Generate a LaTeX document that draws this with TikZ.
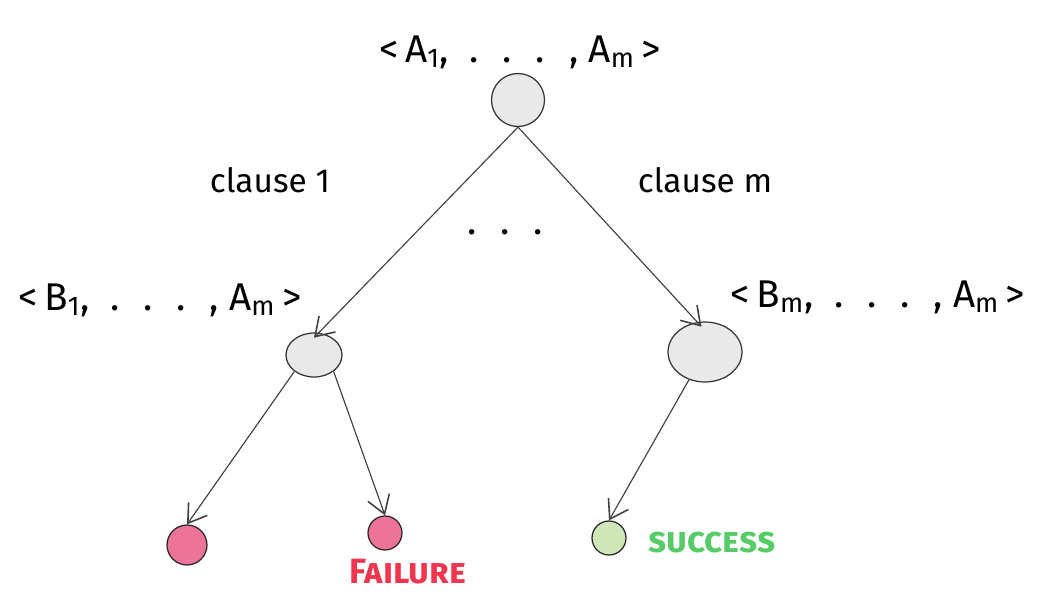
\documentclass[tikz,border=0pt]{standalone}
\usepackage{fontspec}
\setmainfont{Fira Sans}
\usetikzlibrary{arrows.meta,shapes.geometric}
\definecolor{nodegray}{HTML}{E9E9E9}
\definecolor{failred}{HTML}{EE7399}
\definecolor{succgreen}{HTML}{CFE6B8}
\definecolor{failtext}{HTML}{F0364E}
\definecolor{succtext}{HTML}{55CC66}
\tikzset{
  stnode/.style={draw=black!80, line width=0.7pt, fill=nodegray, ellipse, inner sep=0pt},
  leafred/.style={draw=black!85, line width=0.7pt, fill=failred, circle, inner sep=0pt},
  leafgreen/.style={draw=black!85, line width=0.7pt, fill=succgreen, circle, inner sep=0pt},
  edge/.style={draw=black!75, line width=0.65pt, -{Straight Barb[length=10pt,width=13pt,line width=0.9pt]}},
  lbl/.style={font=\fontsize{22}{26}\selectfont, inner sep=0pt},
  clbl/.style={font=\fontsize{19}{22}\selectfont, inner sep=0pt},
  outtxt/.style={font=\fontsize{20}{24}\selectfont\scshape, inner sep=0pt},
}
\begin{document}
\begin{tikzpicture}[x=0.02cm,y=-0.02cm]
\useasboundingbox (0,0) rectangle (1062,602);
% labels
\node[lbl] (la) at (520,52) {<\,A\textsubscript{1}, \ . \ . \ . \ , A\textsubscript{m}\,>};
\node[lbl] (lb) at (160,300) {<\,B\textsubscript{1}, \ . \ . \ . \ , A\textsubscript{m}\,>};
\node[lbl] (lc) at (878,297) {<\,B\textsubscript{m}, \ . \ . \ . \ , A\textsubscript{m}\,>};
\node[clbl] (c1) at (270,180) {clause 1};
\node[clbl] (cm) at (705,180) {clause m};
\node[lbl] (dots) at (505,232) {. \ . \ .};
% nodes
\node[stnode, minimum width=1.06cm, minimum height=1.06cm] (top) at (518,100) {};
\node[stnode, minimum width=1.12cm, minimum height=0.88cm] (bl) at (314,355) {};
\node[stnode, minimum width=1.48cm, minimum height=1.2cm] (br) at (705,352) {};
\node[leafred, minimum size=0.8cm] (f1) at (187,545) {};
\node[leafred, minimum size=0.68cm] (f2) at (385,533) {};
\node[leafgreen, minimum size=0.68cm] (s1) at (609,538) {};
% texts
\node[outtxt, font=\fontsize{20}{24}\selectfont\scshape\bfseries, text=failtext] (ft) at (408,572) {Failure};
\node[outtxt, font=\fontsize{20}{24}\selectfont\scshape\bfseries, text=succtext] (st) at (712,543) {success};
% edges
\draw[edge] (top.south) -- ([yshift=-3pt]bl.north);
\draw[edge] (top.south) -- ([xshift=-2pt,yshift=-3pt]br.north);
\draw[edge] (bl.220) -- (f1.north);
\draw[edge] (bl.320) -- (f2.north);
\draw[edge] (br.240) -- (s1.north);
\end{tikzpicture}
\end{document}
